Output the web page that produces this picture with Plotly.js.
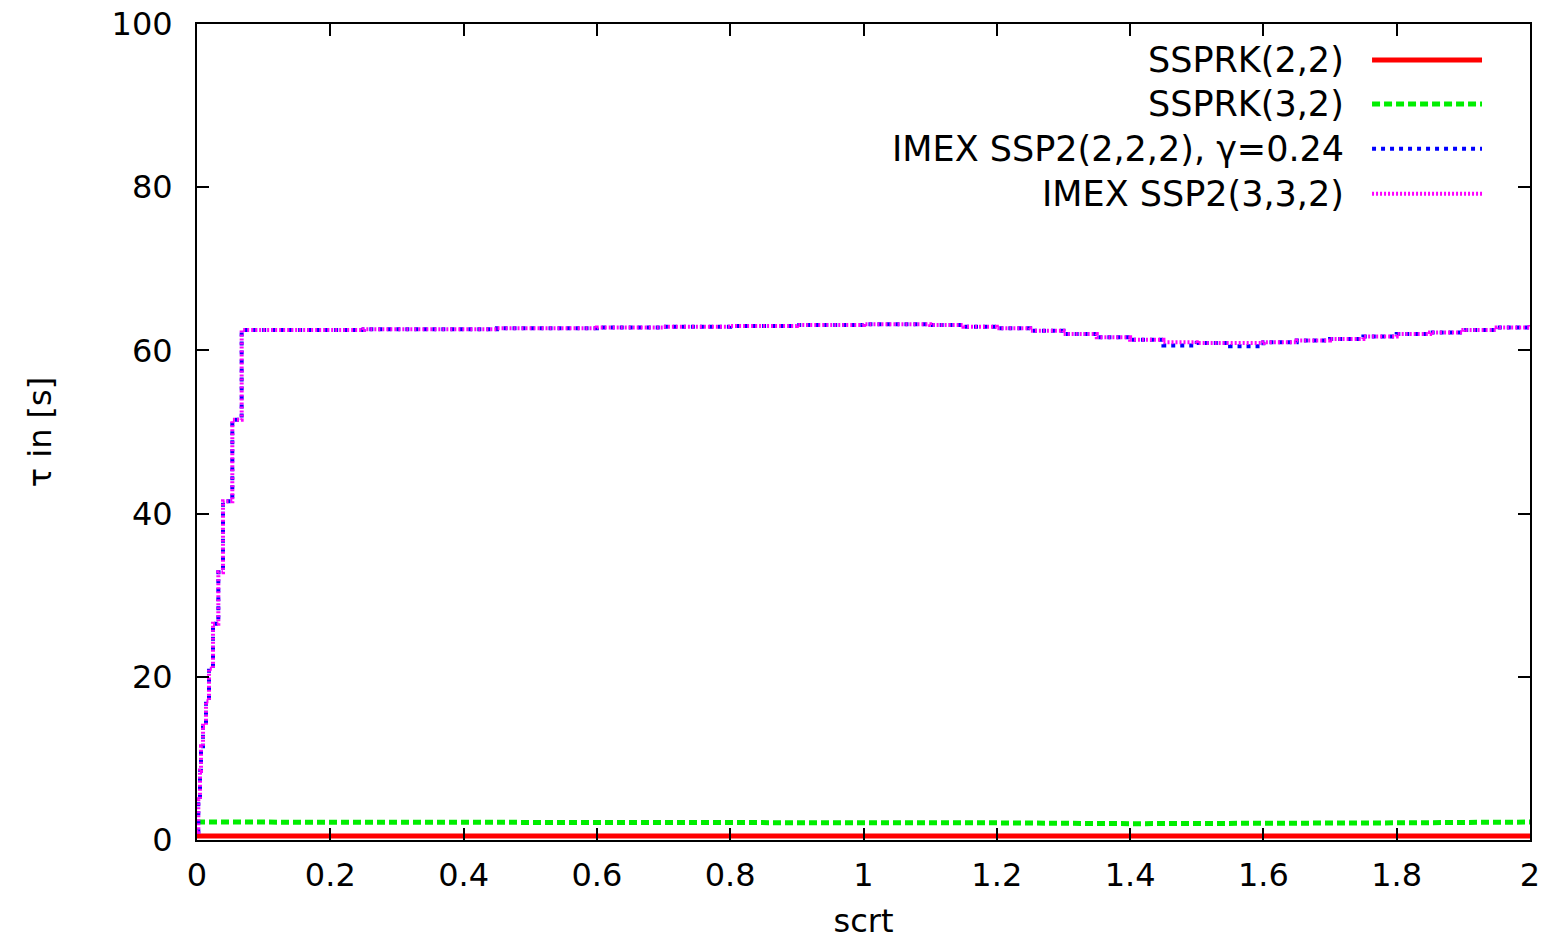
<!DOCTYPE html>
<html>
<head>
<meta charset="utf-8">
<script src="https://cdn.plot.ly/plotly-3.0.1.min.js"></script>
<style>html,body{margin:0;padding:0;background:#fff;}#chart{width:1553px;height:940px;}</style>
</head>
<body>
<div id="chart"></div>
<script>
// ---- data ----
const seriesNames = ["SSPRK(2,2)", "SSPRK(3,2)", "IMEX SSP2(2,2,2), \u03b3=0.24", "IMEX SSP2(3,3,2)"];

const rkX = [0, 0.2, 0.4, 0.6, 0.8, 1.0, 1.2, 1.4, 1.5, 1.6, 1.8, 2.0];
const ssprk22 = [0.5, 0.5, 0.5, 0.5, 0.5, 0.5, 0.5, 0.5, 0.5, 0.5, 0.5, 0.5];
const ssprk32 = [2.2, 2.2, 2.2, 2.2, 2.2, 2.2, 2.1, 2.0, 2.0, 2.0, 2.1, 2.2];

const imexX = [0, 0.002, 0.0045, 0.006, 0.009, 0.0135, 0.018, 0.024, 0.032, 0.039, 0.053, 0.067,
  0.1, 0.15, 0.2, 0.25, 0.3, 0.35, 0.4, 0.45, 0.5, 0.55, 0.6, 0.65, 0.7, 0.75, 0.8, 0.85, 0.9, 0.95,
  1.0, 1.05, 1.1, 1.15, 1.2, 1.25, 1.3, 1.35, 1.4, 1.45, 1.5, 1.55, 1.6, 1.65, 1.7, 1.75, 1.8, 1.85, 1.9, 1.95, 2.0];
const imex222 = [1, 5, 8.5, 11.5, 14, 17, 21, 26.5, 32.8, 41.5, 51.5, 62.5,
  62.5, 62.5, 62.5, 62.6, 62.6, 62.6, 62.6, 62.7, 62.7, 62.7, 62.8, 62.8, 62.9, 62.9, 63.0, 63.0, 63.1, 63.1,
  63.2, 63.2, 63.1, 62.9, 62.7, 62.4, 62.0, 61.6, 61.3, 60.6, 60.9, 60.5, 61.0, 61.2, 61.4, 61.7, 62.0, 62.2, 62.5, 62.8, 63.1];
const imex332 = [1, 5, 8.5, 11.5, 14, 17, 21, 26.5, 32.8, 41.5, 51.5, 62.5,
  62.5, 62.5, 62.5, 62.6, 62.6, 62.6, 62.6, 62.7, 62.7, 62.7, 62.8, 62.8, 62.9, 62.9, 63.0, 63.0, 63.1, 63.1,
  63.2, 63.2, 63.1, 62.9, 62.7, 62.4, 62.0, 61.6, 61.3, 61.0, 60.9, 60.9, 61.0, 61.2, 61.4, 61.7, 62.0, 62.2, 62.5, 62.8, 63.1];

const xTicks = [0, 0.2, 0.4, 0.6, 0.8, 1, 1.2, 1.4, 1.6, 1.8, 2];
const xTickText = ["0", "0.2", "0.4", "0.6", "0.8", "1", "1.2", "1.4", "1.6", "1.8", "2"];
const yTicks = [0, 20, 40, 60, 80, 100];

const colors = ["#ff0000", "#00ee00", "#0000ff", "#ff00ff"];
const dashes = ["solid", "8px,4px", "4px,5px", "2px,2px"];
const widths = [5, 5, 4, 4];

// ---- traces ----
const traces = [
  {x: rkX, y: ssprk22, mode: "lines", line: {color: colors[0], width: widths[0], dash: dashes[0]}},
  {x: rkX, y: ssprk32, mode: "lines", line: {color: colors[1], width: widths[1], dash: dashes[1]}},
  {x: imexX, y: imex222, mode: "lines", line: {color: colors[2], width: widths[2], dash: dashes[2], shape: "hv"}},
  {x: imexX, y: imex332, mode: "lines", line: {color: colors[3], width: widths[3], dash: dashes[3], shape: "hv"}}
].map((t, i) => Object.assign(t, {name: seriesNames[i], showlegend: false, hoverinfo: "skip"}));

const fam = "DejaVu Sans, Liberation Sans, Arial, sans-serif";

// ---- manual legend (text left, sample right) ----
const legendRowsY = [0.956, 0.902, 0.847, 0.792];
const annotations = seriesNames.map((n, i) => ({
  xref: "paper", yref: "paper", x: 0.862, y: legendRowsY[i], xanchor: "right", yanchor: "middle",
  text: n, showarrow: false, font: {family: fam, size: 35, color: "#000"}
}));
const shapes = seriesNames.map((n, i) => ({
  type: "line", xref: "paper", yref: "paper", x0: 0.8815, x1: 0.964, y0: legendRowsY[i], y1: legendRowsY[i],
  line: {color: colors[i], width: widths[i], dash: dashes[i]}
}));

const font = {family: fam, size: 32, color: "#000"};
const layout = {
  width: 1553, height: 940,
  margin: {l: 197, r: 23, t: 24, b: 100},
  paper_bgcolor: "#fff", plot_bgcolor: "#fff",
  font: font,
  showlegend: false,
  xaxis: {
    range: [0, 2], tickvals: xTicks, ticktext: xTickText,
    ticks: "inside", ticklen: 12, tickwidth: 2, tickcolor: "#000",
    showline: true, linewidth: 2, linecolor: "#000", mirror: "ticks",
    showgrid: false, zeroline: false, ticklabelstandoff: 6,
    tickfont: font,
    title: {text: "scrt", font: font, standoff: 24}
  },
  yaxis: {
    range: [0, 100], tickvals: yTicks,
    ticks: "inside", ticklen: 12, tickwidth: 2, tickcolor: "#000",
    showline: true, linewidth: 2, linecolor: "#000", mirror: "ticks",
    showgrid: false, zeroline: false, ticklabelstandoff: 16,
    tickfont: font,
    title: {text: "\u03c4 in [s]", font: font, standoff: 50}
  },
  annotations: annotations,
  shapes: shapes
};

Plotly.newPlot("chart", traces, layout, {displayModeBar: false, staticPlot: true});
</script>
</body>
</html>
